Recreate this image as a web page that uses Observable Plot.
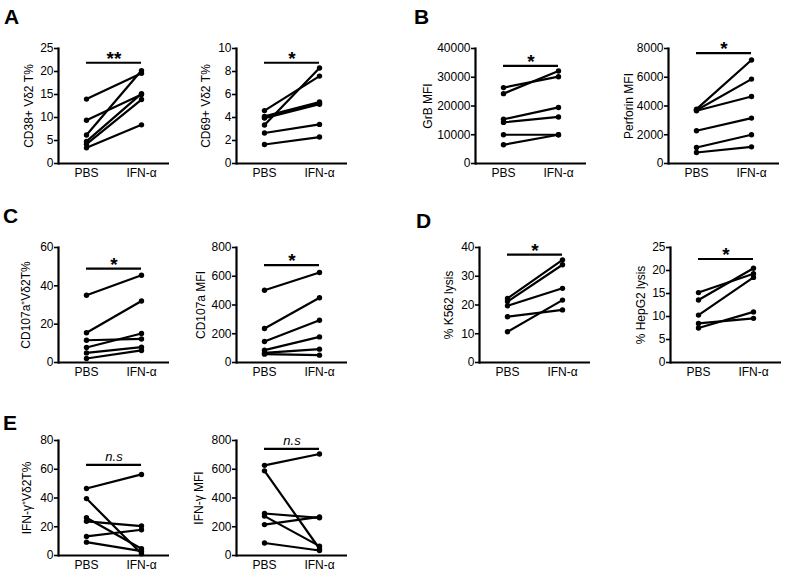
<!DOCTYPE html>
<html><head><meta charset="utf-8">
<script src="https://cdn.jsdelivr.net/npm/d3@7"></script>
<script src="https://cdn.jsdelivr.net/npm/@observablehq/plot@0.6"></script>
<style>
body{margin:0;background:#fff;}
#fig{position:relative;width:787px;height:575px;font-family:"Liberation Sans",Arial,sans-serif;color:#000;}
.panel{position:absolute;}
.letter{position:absolute;font-weight:bold;font-size:21px;line-height:1;}
</style></head><body><div id="fig"></div>
<script>
const conditions = ["PBS", "IFN-α"];

// A
const cd38PBS = [14.0, 9.4, 6.2, 4.8, 4.2, 3.4];
const cd38IFN = [19.6, 15.0, 20.2, 15.2, 13.9, 8.4];
const cd38Ticks = [0, 5, 10, 15, 20, 25];
const cd69PBS = [4.6, 3.35, 4.1, 4.0, 3.95, 2.65, 1.65];
const cd69IFN = [7.6, 8.3, 5.35, 5.25, 5.15, 3.4, 2.3];
const cd69Ticks = [0, 2, 4, 6, 8, 10];
// B
const grbPBS = [26400, 24300, 15400, 14300, 10000, 6500];
const grbIFN = [30200, 32200, 19500, 16200, 10000, 10000];
const grbTicks = [0, 10000, 20000, 30000, 40000];
const perfPBS = [3780, 3710, 3670, 2275, 1110, 765];
const perfIFN = [7200, 5870, 4660, 3160, 2000, 1160];
const perfTicks = [0, 2000, 4000, 6000, 8000];
// C
const cd107pPBS = [35.1, 15.5, 11.6, 7.8, 5.0, 2.1];
const cd107pIFN = [45.5, 32.1, 12.3, 15.1, 8.0, 6.3];
const cd107pTicks = [0, 20, 40, 60];
const cd107mPBS = [503, 237, 146, 86, 67, 58];
const cd107mIFN = [626, 450, 294, 178, 93, 51];
const cd107mTicks = [0, 200, 400, 600, 800];
// D
const k562PBS = [22.3, 21.2, 19.7, 15.9, 10.7];
const k562IFN = [35.7, 34.0, 25.8, 18.3, 21.7];
const k562Ticks = [0, 10, 20, 30, 40];
const hepPBS = [15.2, 13.6, 10.3, 8.5, 7.5];
const hepIFN = [19.3, 20.5, 18.5, 9.6, 11.0];
const hepTicks = [0, 5, 10, 15, 20, 25];
// E
const ifngPPBS = [46.6, 39.6, 26.3, 23.8, 13.3, 9.3];
const ifngPIFN = [56.4, 1.2, 4.7, 20.5, 17.9, 3.0];
const ifngPTicks = [0, 20, 40, 60, 80];
const ifngMPBS = [627, 589, 292, 274, 215, 87];
const ifngMIFN = [706, 47, 262, 65, 269, 35];
const ifngMTicks = [0, 200, 400, 600, 800];

const yLabels = ["CD38+ Vδ2 T%", "CD69+ Vδ2 T%", "GrB MFI", "Perforin MFI", "CD107a⁺Vδ2T%", "CD107a MFI", "% K562 lysis", "% HepG2 lysis", "IFN-γ⁺Vδ2T%", "IFN-γ MFI"];
const sigTexts = ["**", "*", "*", "*", "*", "*", "*", "*", "n.s", "n.s"];
const sigLevels = [21.9, 8.76, 33980, 7680, 49, 677, 37.5, 22.5, 63.1, 742];
const panelLetters = ["A", "B", "C", "D", "E"];

const panels = [
  {pbs: cd38PBS, ifn: cd38IFN, ticks: cd38Ticks, left: 0, top: 25, lo: 34},
  {pbs: cd69PBS, ifn: cd69IFN, ticks: cd69Ticks, left: 178, top: 25, lo: 35},
  {pbs: grbPBS, ifn: grbIFN, ticks: grbTicks, left: 417, top: 25, lo: 52},
  {pbs: perfPBS, ifn: perfIFN, ticks: perfTicks, left: 610, top: 25, lo: 44},
  {pbs: cd107pPBS, ifn: cd107pIFN, ticks: cd107pTicks, left: 0, top: 224, lo: 37},
  {pbs: cd107mPBS, ifn: cd107mIFN, ticks: cd107mTicks, left: 178, top: 224, lo: 40},
  {pbs: k562PBS, ifn: k562IFN, ticks: k562Ticks, left: 421, top: 224, lo: 35},
  {pbs: hepPBS, ifn: hepIFN, ticks: hepTicks, left: 612, top: 224, lo: 34},
  {pbs: ifngPPBS, ifn: ifngPIFN, ticks: ifngPTicks, left: 0, top: 417, lo: 36},
  {pbs: ifngMPBS, ifn: ifngMIFN, ticks: ifngMTicks, left: 178, top: 417, lo: 42}
];
const letterPos = [[4, 6], [414, 6], [3, 205], [416, 210], [3, 412]];

const fig = document.getElementById("fig");

panels.forEach((p, k) => {
  const rows = [];
  p.pbs.forEach((v, i) => {
    rows.push({id: i, cond: conditions[0], v});
    rows.push({id: i, cond: conditions[1], v: p.ifn[i]});
  });
  const isNS = sigTexts[k] === "n.s";
  const chart = Plot.plot({
    width: 172, height: 165,
    marginLeft: 58, marginRight: 3, marginTop: 23, marginBottom: 27,
    style: {fontFamily: "'Liberation Sans', Arial, sans-serif", fontSize: "12px", color: "#000", background: "transparent", overflow: "visible"},
    x: {type: "point", domain: conditions, padding: 0.5},
    y: {domain: [0, p.ticks[p.ticks.length - 1]]},
    marks: [
      Plot.axisX({tickSize: 0, tickPadding: 5, label: null, fontSize: 12}),
      Plot.axisY({ticks: p.ticks, tickFormat: d => String(d), tickSize: 4, tickPadding: 1, strokeWidth: 1.6, fontSize: 12,
        label: yLabels[k], labelAnchor: "center", labelOffset: p.lo, labelArrow: false}),
      Plot.ruleY([0], {strokeWidth: 2.2}),
      Plot.frame({anchor: "left", strokeWidth: 2.2}),
      Plot.line(rows, {x: "cond", y: "v", z: "id", stroke: "black", strokeWidth: 2.2}),
      Plot.dot(rows, {x: "cond", y: "v", r: 2.7, fill: "black"}),
      Plot.ruleY([sigLevels[k]], {y: d => d, x1: () => conditions[0], x2: () => conditions[1], strokeWidth: 2.2}),
      Plot.text([sigTexts[k]], {text: d => d, y: () => sigLevels[k],
        dy: isNS ? -8 : -4, fontSize: isNS ? 13 : 19, fontWeight: isNS ? "normal" : "bold", fontStyle: isNS ? "italic" : "normal"})
    ]
  });
  chart.classList.add("panel");
  chart.style.left = p.left + "px";
  chart.style.top = p.top + "px";
  fig.appendChild(chart);
});

panelLetters.forEach((l, i) => {
  const d = document.createElement("div");
  d.className = "letter";
  d.textContent = l;
  d.style.left = letterPos[i][0] + "px";
  d.style.top = letterPos[i][1] + "px";
  fig.appendChild(d);
});
</script></body></html>
